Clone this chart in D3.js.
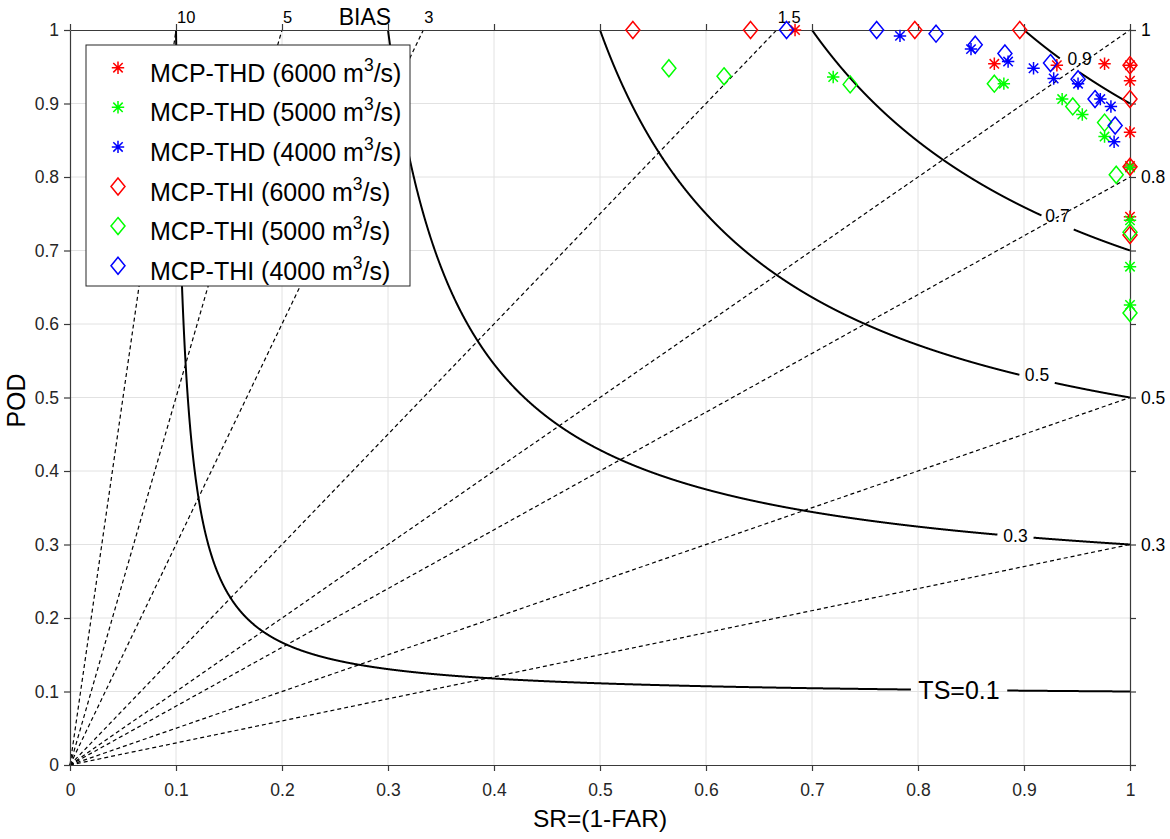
<!DOCTYPE html>
<html>
<head>
<meta charset="utf-8">
<script src="https://cdn.jsdelivr.net/npm/d3@7"></script>
<style>
  body { margin: 0; background: #fff; }
  text { font-family: "Liberation Sans", Arial, sans-serif; }
</style>
</head>
<body>
<div id="chart"></div>
<script>
// ---- data (SR, POD) ----
var thd6000 = [[0.684,1.0],[0.872,0.954],[0.931,0.952],[0.976,0.954],[1,0.952],[1,0.931],[1,0.861],[1,0.815],[1,0.746]];
var thd5000 = [[0.720,0.936],[0.881,0.927],[0.936,0.906],[0.955,0.885],[0.976,0.855],[1,0.813],[1,0.741],[1,0.678],[1,0.626]];
var thd4000 = [[0.783,0.992],[0.850,0.974],[0.885,0.957],[0.909,0.948],[0.928,0.934],[0.951,0.927],[0.972,0.906],[0.982,0.896],[0.985,0.848]];
var thi6000 = [[0.531,1.0],[0.642,1.0],[0.797,1.0],[0.896,1.0],[1,0.952],[1,0.906],[1,0.814],[1,0.721]];
var thi5000 = [[0.565,0.948],[0.617,0.937],[0.736,0.926],[0.872,0.927],[0.946,0.896],[0.976,0.874],[0.987,0.803],[1,0.725],[1,0.615]];
var thi4000 = [[0.676,1.0],[0.761,1.0],[0.817,0.995],[0.854,0.980],[0.882,0.968],[0.925,0.955],[0.951,0.933],[0.967,0.906],[0.986,0.870]];

var seriesNames = ["MCP-THD (6000 m", "MCP-THD (5000 m", "MCP-THD (4000 m",
                   "MCP-THI (6000 m", "MCP-THI (5000 m", "MCP-THI (4000 m"];
var seriesData = [thd6000, thd5000, thd4000, thi6000, thi5000, thi4000];
var seriesMarker = ["star","star","star","diamond","diamond","diamond"];
var seriesColor = ["#ff0000","#00ff00","#0000ff","#ff0000","#00ff00","#0000ff"];

var biasValues = [0.3, 0.5, 0.8, 1, 1.5, 3, 5, 10];
var tsValues = [0.1, 0.3, 0.5, 0.7, 0.9];
var axisTicks = [0, 0.1, 0.2, 0.3, 0.4, 0.5, 0.6, 0.7, 0.8, 0.9, 1];
var tickLabels = ["0","0.1","0.2","0.3","0.4","0.5","0.6","0.7","0.8","0.9","1"];

// where the contour labels sit (SR of the label), gap radius and nudges
var tsLabel = {
  at:   [0.8387, 0.8920, 0.9123, 0.9316, 0.943],
  gap:  [48, 18, 18, 17.5, 12],
  dx:   [0, 0, 0, 0, 10],
  dy:   [0, 0, -4, -7, -7],
  size: [25, 17.5, 17.5, 17.5, 17.5]
};

// set the dimensions and margins of the graph
var margin = {top: 30, right: 40, bottom: 74, left: 70},
    width = 1170 - margin.left - margin.right,
    height = 839 - margin.top - margin.bottom;

var svg = d3.select("#chart")
  .append("svg")
    .attr("width", 1170)
    .attr("height", 839)
  .append("g")
    .attr("transform", "translate(" + margin.left + "," + margin.top + ")");

var x = d3.scaleLinear().domain([0, 1]).range([0, width]);
var y = d3.scaleLinear().domain([0, 1]).range([height, 0]);

// grid
svg.append("g").selectAll("line.gx")
  .data(axisTicks.slice(1, -1))
  .enter().append("line")
    .attr("x1", d => x(d)).attr("x2", d => x(d))
    .attr("y1", 0).attr("y2", height)
    .attr("stroke", "#e2e2e2").attr("stroke-width", 1);
svg.append("g").selectAll("line.gy")
  .data(axisTicks.slice(1, -1))
  .enter().append("line")
    .attr("y1", d => y(d)).attr("y2", d => y(d))
    .attr("x1", 0).attr("x2", width)
    .attr("stroke", "#e2e2e2").attr("stroke-width", 1);

// bias lines from the origin
svg.append("g").selectAll("line")
  .data(biasValues)
  .enter().append("line")
    .attr("x1", x(0)).attr("y1", y(0))
    .attr("x2", d => x(Math.min(1, 1 / d)))
    .attr("y2", d => y(Math.min(1, d)))
    .attr("stroke", "#000").attr("stroke-width", 1.2)
    .attr("stroke-dasharray", "4,3");

// TS (CSI) contours, broken where the label sits
function podFor(ts, sr) { return 1 / (1 / ts - 1 / sr + 1); }
var line = d3.line().x(d => d[0]).y(d => d[1]);

tsValues.forEach(function(ts, i) {
  var ax = x(tsLabel.at[i]), ay = y(podFor(ts, tsLabel.at[i]));
  var segs = [[]];
  var n = 3000;
  for (var k = 0; k <= n; k++) {
    var sr = ts + (1 - ts) * k / n;
    var px = x(sr), py = y(podFor(ts, sr));
    var dist = Math.hypot(px - ax, py - ay);
    if (dist < tsLabel.gap[i]) {
      if (segs[segs.length - 1].length) segs.push([]);
    } else {
      segs[segs.length - 1].push([px, py]);
    }
  }
  segs.filter(s => s.length > 1).forEach(function(s) {
    svg.append("path")
      .attr("d", line(s))
      .attr("fill", "none")
      .attr("stroke", "#000")
      .attr("stroke-width", 2);
  });
  svg.append("text")
    .attr("x", ax + tsLabel.dx[i])
    .attr("y", ay + tsLabel.dy[i])
    .attr("dy", "0.35em")
    .attr("text-anchor", "middle")
    .attr("font-size", tsLabel.size[i] + "px")
    .attr("fill", "#000")
    .text(i === 0 ? "TS=" + ts : String(ts));
});

// axes
function styleAxis(g) {
  g.select(".domain").attr("stroke", "#3a3a3a").attr("stroke-width", 1.2);
  g.selectAll(".tick line").attr("stroke", "#3a3a3a").attr("stroke-width", 1.2);
  g.selectAll(".tick text").attr("fill", "#262626").attr("font-size", "17.5px");
}

svg.append("g")
  .attr("transform", "translate(0," + height + ")")
  .call(d3.axisBottom(x).tickValues(axisTicks).tickSize(6).tickSizeOuter(0).tickPadding(13)
    .tickFormat((d, i) => tickLabels[i]))
  .call(styleAxis);

svg.append("g")
  .call(d3.axisLeft(y).tickValues(axisTicks).tickSize(6).tickSizeOuter(0).tickPadding(5)
    .tickFormat((d, i) => tickLabels[i]))
  .call(styleAxis);

svg.append("g")
  .call(d3.axisTop(x).tickValues(axisTicks).tickSize(6).tickSizeOuter(0).tickFormat(""))
  .call(styleAxis);

svg.append("g")
  .attr("transform", "translate(" + width + ",0)")
  .call(d3.axisRight(y).tickValues(axisTicks).tickSize(6).tickSizeOuter(0).tickFormat(""))
  .call(styleAxis);

// bias labels on top and right edge
svg.append("g").selectAll("text")
  .data(biasValues)
  .enter().append("text")
    .attr("font-size", d => d > 1 ? "16.5px" : "17.5px")
    .attr("fill", "#000")
    .attr("x", d => d > 1 ? x(1 / d) + 1 : x(1) + 11)
    .attr("y", d => d > 1 ? -7 : y(d) + 6)
    .text(d => d);

svg.append("text")
  .attr("x", x(0.2783))
  .attr("y", -5)
  .attr("text-anchor", "middle")
  .attr("font-size", "23px")
  .attr("fill", "#000")
  .text("BIAS");

// markers
var symbolPath = {
  star: function(cx, cy) {
    var r = 6.2, q = 4.7;
    return "M" + (cx - r) + "," + cy + "H" + (cx + r) +
           "M" + cx + "," + (cy - r) + "V" + (cy + r) +
           "M" + (cx - q) + "," + (cy - q) + "L" + (cx + q) + "," + (cy + q) +
           "M" + (cx - q) + "," + (cy + q) + "L" + (cx + q) + "," + (cy - q);
  },
  diamond: function(cx, cy) {
    var w = 7, h = 8.5;
    return "M" + cx + "," + (cy - h) + "L" + (cx + w) + "," + cy +
           "L" + cx + "," + (cy + h) + "L" + (cx - w) + "," + cy + "Z";
  }
};

seriesData.forEach(function(data, i) {
  svg.append("g").selectAll("path")
    .data(data)
    .enter().append("path")
      .attr("d", d => symbolPath[seriesMarker[i]](x(d[0]), y(d[1])))
      .attr("fill", "none")
      .attr("stroke", seriesColor[i])
      .attr("stroke-width", 1.5);
});

// legend
var legend = svg.append("g").attr("transform", "translate(16,15)");
legend.append("rect")
  .attr("width", 324).attr("height", 241)
  .attr("fill", "#fff")
  .attr("stroke", "#262626").attr("stroke-width", 1);

seriesNames.forEach(function(name, i) {
  var cy = 22.7 + i * 39.6;
  legend.append("path")
    .attr("d", symbolPath[seriesMarker[i]](32, cy))
    .attr("fill", "none")
    .attr("stroke", seriesColor[i])
    .attr("stroke-width", 1.5);
  var t = legend.append("text")
    .attr("x", 64).attr("y", cy + 14)
    .attr("font-size", "25px").attr("fill", "#000");
  t.append("tspan").text(name);
  t.append("tspan").attr("dy", -11).attr("font-size", "17.5px").text("3");
  t.append("tspan").attr("dy", 11).text("/s)");
});

// axis titles
svg.append("text")
  .attr("x", width / 2)
  .attr("y", height + 62)
  .attr("text-anchor", "middle")
  .attr("font-size", "24.5px")
  .attr("fill", "#000")
  .text("SR=(1-FAR)");

svg.append("text")
  .attr("transform", "translate(" + (-45) + "," + (height / 2 + 3) + ") rotate(-90)")
  .attr("text-anchor", "middle")
  .attr("font-size", "25px")
  .attr("fill", "#000")
  .text("POD");
</script>
</body>
</html>
